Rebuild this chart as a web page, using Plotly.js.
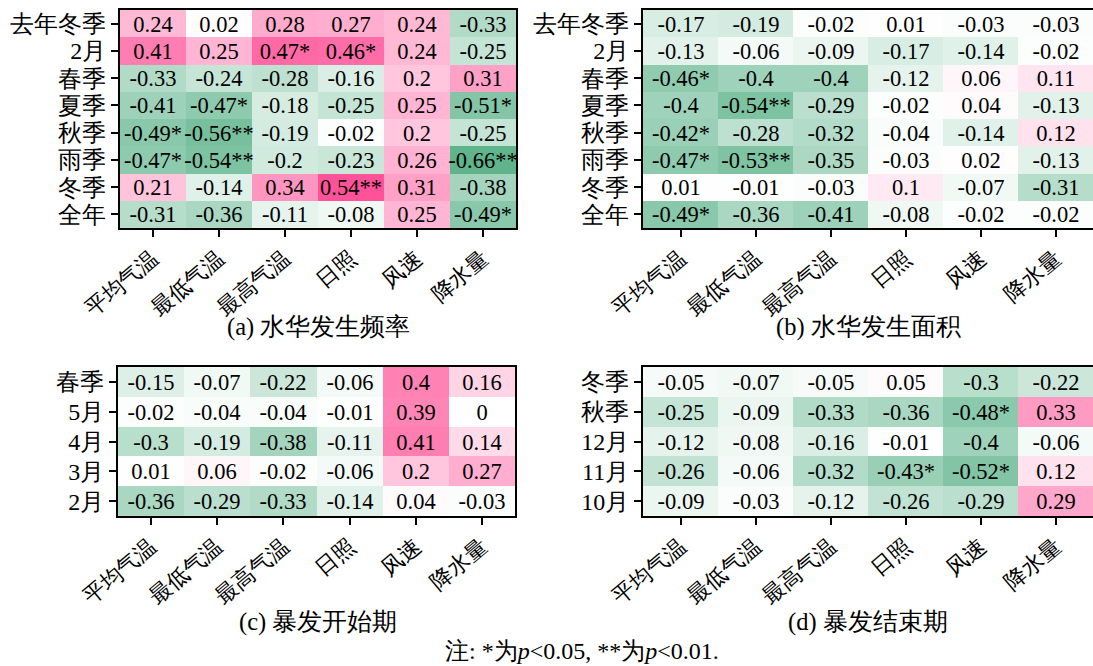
<!DOCTYPE html>
<html>
<head>
<meta charset="utf-8">
<script src="https://cdn.plot.ly/plotly-3.0.1.min.js"></script>
<style>
html,body{margin:0;padding:0;background:#fff;overflow:hidden;}
#chart{width:1093px;height:666px;}
</style>
</head>
<body>
<div id="chart"></div>
<script>
// ---- data ----
const factors = ['平均气温','最低气温','最高气温','日照','风速','降水量'];

const rowsA = ['去年冬季','2月','春季','夏季','秋季','雨季','冬季','全年'];
const valsA = [
  [0.24, 0.02, 0.28, 0.27, 0.24, -0.33],
  [0.41, 0.25, 0.47, 0.46, 0.24, -0.25],
  [-0.33, -0.24, -0.28, -0.16, 0.2, 0.31],
  [-0.41, -0.47, -0.18, -0.25, 0.25, -0.51],
  [-0.49, -0.56, -0.19, -0.02, 0.2, -0.25],
  [-0.47, -0.54, -0.2, -0.23, 0.26, -0.66],
  [0.21, -0.14, 0.34, 0.54, 0.31, -0.38],
  [-0.31, -0.36, -0.11, -0.08, 0.25, -0.49]
];
const sigA = [
  ['','','','','',''],
  ['','','*','*','',''],
  ['','','','','',''],
  ['','*','','','','*'],
  ['*','**','','','',''],
  ['*','**','','','','**'],
  ['','','','**','',''],
  ['','','','','','*']
];

const rowsB = ['去年冬季','2月','春季','夏季','秋季','雨季','冬季','全年'];
const valsB = [
  [-0.17, -0.19, -0.02, 0.01, -0.03, -0.03],
  [-0.13, -0.06, -0.09, -0.17, -0.14, -0.02],
  [-0.46, -0.4, -0.4, -0.12, 0.06, 0.11],
  [-0.4, -0.54, -0.29, -0.02, 0.04, -0.13],
  [-0.42, -0.28, -0.32, -0.04, -0.14, 0.12],
  [-0.47, -0.53, -0.35, -0.03, 0.02, -0.13],
  [0.01, -0.01, -0.03, 0.1, -0.07, -0.31],
  [-0.49, -0.36, -0.41, -0.08, -0.02, -0.02]
];
const sigB = [
  ['','','','','',''],
  ['','','','','',''],
  ['*','','','','',''],
  ['','**','','','',''],
  ['*','','','','',''],
  ['*','**','','','',''],
  ['','','','','',''],
  ['*','','','','','']
];

const rowsC = ['春季','5月','4月','3月','2月'];
const valsC = [
  [-0.15, -0.07, -0.22, -0.06, 0.4, 0.16],
  [-0.02, -0.04, -0.04, -0.01, 0.39, 0],
  [-0.3, -0.19, -0.38, -0.11, 0.41, 0.14],
  [0.01, 0.06, -0.02, -0.06, 0.2, 0.27],
  [-0.36, -0.29, -0.33, -0.14, 0.04, -0.03]
];
const sigC = [
  ['','','','','',''],
  ['','','','','',''],
  ['','','','','',''],
  ['','','','','',''],
  ['','','','','','']
];

const rowsD = ['冬季','秋季','12月','11月','10月'];
const valsD = [
  [-0.05, -0.07, -0.05, 0.05, -0.3, -0.22],
  [-0.25, -0.09, -0.33, -0.36, -0.48, 0.33],
  [-0.12, -0.08, -0.16, -0.01, -0.4, -0.06],
  [-0.26, -0.06, -0.32, -0.43, -0.52, 0.12],
  [-0.09, -0.03, -0.12, -0.26, -0.29, 0.29]
];
const sigD = [
  ['','','','','',''],
  ['','','','','*',''],
  ['','','','','',''],
  ['','','','*','*',''],
  ['','','','','','']
];

const panelTitles = ['(a) 水华发生频率','(b) 水华发生面积','(c) 暴发开始期','(d) 暴发结束期'];
const note = '注: *为<i>p</i>&lt;0.05, **为<i>p</i>&lt;0.01.';

// ---- style ----
const W = 1093, H = 666;
const serif = 'Liberation Serif';
const colorscale = [
  [0, 'rgb(85,175,133)'],
  [0.47, 'rgb(248,252,250)'],
  [0.5, 'rgb(255,255,255)'],
  [0.535, 'rgb(255,250,252)'],
  [1, 'rgb(255,27,119)']
];

function labels(vals, sig){
  return vals.map((r,i)=>r.map((v,j)=>String(v)+sig[i][j]));
}

const panels = [
  {rows: rowsA, vals: valsA, sig: sigA, x:[120,516], y:[10,228]},
  {rows: rowsB, vals: valsB, sig: sigB, x:[643,1093], y:[10,228]},
  {rows: rowsC, vals: valsC, sig: sigC, x:[118,515], y:[367,516]},
  {rows: rowsD, vals: valsD, sig: sigD, x:[643,1093], y:[367,516]}
];

const data = [];
const layout = {
  width: W, height: H,
  margin: {l:0, r:0, t:0, b:0},
  paper_bgcolor: '#fff', plot_bgcolor: '#fff',
  font: {family: serif, size: 22, color: '#000'},
  showlegend: false,
  annotations: []
};

panels.forEach((p, k) => {
  const n = k === 0 ? '' : String(k+1);
  data.push({
    type: 'heatmap',
    x: factors, y: p.rows, z: p.vals,
    text: labels(p.vals, p.sig),
    texttemplate: '%{text}',
    textfont: {family: serif, size: 22.5, color: '#000'},
    colorscale: colorscale, zmin: -0.7, zmax: 0.7,
    showscale: false, xgap: 0, ygap: 0,
    hoverinfo: 'skip',
    xaxis: 'x' + n, yaxis: 'y' + n
  });
  const axBase = {
    showline: true, mirror: true, linecolor: '#000', linewidth: 2,
    ticks: 'outside', ticklen: 7, tickwidth: 2, tickcolor: '#000',
    showgrid: false, zeroline: false, fixedrange: true
  };
  layout['xaxis' + n] = Object.assign({}, axBase, {
    domain: [p.x[0]/W, Math.min(1, p.x[1]/W)],
    anchor: 'y' + n, tickangle: -40, type: 'category',
    tickmode: 'array', tickvals: factors, ticktext: factors,
    tickfont: {family: serif, size: 22, color: '#000'}
  });
  layout['yaxis' + n] = Object.assign({}, axBase, {
    domain: [1 - p.y[1]/H, 1 - p.y[0]/H],
    anchor: 'x' + n, autorange: 'reversed', type: 'category',
    tickmode: 'array', tickvals: p.rows, ticktext: p.rows,
    tickfont: {family: serif, size: 24, color: '#000'}
  });
});

const titlePos = [[318,327],[868,327],[318,622],[868,622]];
panelTitles.forEach((t,i)=>{
  layout.annotations.push({
    text: t, xref:'paper', yref:'paper',
    x: titlePos[i][0]/W, y: 1 - titlePos[i][1]/H,
    xanchor:'center', yanchor:'middle', showarrow:false,
    font:{family: serif, size: 24.5, color:'#000'}
  });
});
layout.annotations.push({
  text: note, xref:'paper', yref:'paper',
  x: 582/W, y: 1 - 651/H, xanchor:'center', yanchor:'middle', showarrow:false,
  font:{family: serif, size: 24, color:'#000'}
});

Plotly.newPlot('chart', data, layout, {displayModeBar:false, staticPlot:true});
</script>
</body>
</html>
